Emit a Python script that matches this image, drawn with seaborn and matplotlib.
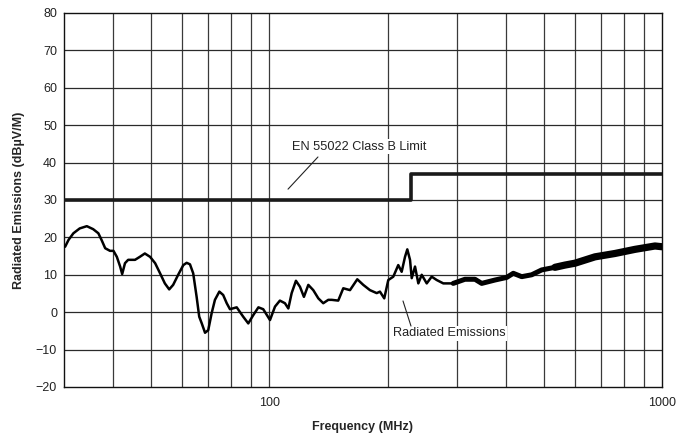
import matplotlib
matplotlib.use("Agg")
import matplotlib.pyplot as plt
import pandas as pd
import seaborn as sns

# ─── Data ─────────────────────────────────────────────────────────────────────
freq_mhz = [
    30.2, 30.8, 31.7, 32.9, 34.3, 35.6, 36.7, 37.4, 38.2, 39.3,
    40.1, 40.9, 41.7, 42.2, 42.9, 43.7, 45.5, 46.8, 48.2, 49.7,
    51.2, 52.7, 54.2, 55.6, 56.9, 58.6, 60.4, 61.6, 62.8, 64.0,
    65.3, 66.3, 67.3, 68.6, 69.9, 71.3, 72.7, 74.6, 76.3, 77.9,
    79.4, 82.6, 85.8, 88.4, 91.0, 93.8, 96.5, 100.4, 103.4, 106.4,
    109.6, 111.8, 114.0, 116.9, 119.7, 122.5, 125.7, 129.4, 133.3, 137.2,
    141.3, 144.2, 149.8, 154.3, 160.5, 167.5, 173.5, 180.4, 187.7, 191.3,
    196.2, 200.9, 206.9, 213.0, 217.3, 221.6, 224.6, 228.2, 230.5, 235.0,
    239.6, 244.4, 251.7, 259.1, 266.9, 277.4, 294.0, 314.9, 334.0, 347.4,
    375.5, 402.3, 418.1, 439.3, 465.7, 493.9, 533.9, 566.2, 600.4, 675.1,
    759.1, 853.4, 959.7, 1000.0,
]
emission_db = [
    17.5, 19.3, 21.1, 22.4, 23.0, 22.2, 21.1, 19.3, 17.1, 16.4,
    16.4, 14.8, 12.2, 10.2, 13.1, 14.0, 14.0, 14.8, 15.7, 14.8,
    13.1, 10.4, 7.7, 6.1, 7.3, 10.0, 12.6, 13.2, 12.8, 10.4,
    4.1, -1.2, -3.0, -5.5, -4.8, -0.3, 3.3, 5.5, 4.6, 2.4,
    0.8, 1.3, -1.2, -3.0, -0.8, 1.3, 0.8, -2.1, 1.5, 3.1,
    2.4, 1.0, 5.1, 8.4, 6.8, 4.1, 7.3, 5.9, 3.7, 2.4,
    3.3, 3.3, 3.1, 6.4, 5.9, 8.8, 7.3, 5.9, 5.1, 5.5,
    3.7, 8.6, 9.5, 12.6, 10.8, 14.8, 16.8, 14.0, 9.1, 12.2,
    7.7, 10.0, 7.7, 9.5, 8.6, 7.7, 7.7, 8.8, 8.8, 7.7,
    8.6, 9.3, 10.4, 9.5, 10.0, 11.3, 12.0, 12.6, 13.1, 14.8,
    15.7, 16.8, 17.7, 17.5,
]

limit_freq = [30, 230, 1000]
limit_db = [30, 37, 37]

y_ticks = [-20, -10, 0, 10, 20, 30, 40, 50, 60, 70, 80]
x_grid = [40, 50, 60, 70, 80, 90, 100, 200, 300, 400, 500, 600, 700, 800, 900]
x_labels = {100: "100", 1000: "1000"}

df = pd.DataFrame({"freq": freq_mhz, "db": emission_db})
lim = pd.DataFrame({"freq": limit_freq, "db": limit_db})

sns.set_theme(style="white")
plt.rcParams["font.family"] = ["Liberation Sans", "DejaVu Sans"]

fig = plt.figure(figsize=(6.88, 4.36), dpi=100)
ax = fig.add_axes([0.093, 0.1124, 0.8692, 0.8578])
ax.set_xscale("log")

# grid
for f in x_grid:
    ax.axvline(f, color="#3a3a3a", lw=0.9, zorder=1)
for y in y_ticks[1:-1]:
    ax.axhline(y, color="#2a2a2a", lw=0.9, zorder=1)

# limit line (step)
sns.lineplot(data=lim, x="freq", y="db", drawstyle="steps-post", color="#1a1a1a",
             lw=2.6, estimator=None, ax=ax, zorder=3)

# measured emissions (noise band gets thicker at high frequency)
sns.lineplot(data=df, x="freq", y="db", color="black", lw=1.8, estimator=None,
             ax=ax, zorder=4)
sns.lineplot(data=df[df["freq"] >= 290], x="freq", y="db", color="black", lw=3.6,
             estimator=None, ax=ax, zorder=4)
sns.lineplot(data=df[df["freq"] >= 520], x="freq", y="db", color="black", lw=5.2,
             estimator=None, ax=ax, zorder=4)

ax.set_xlim(30, 1000)
ax.set_ylim(-20, 80)
ax.set_yticks(y_ticks)
ax.set_yticklabels([str(v).replace("-", "\u2212") for v in y_ticks])
ax.set_xticks(list(x_labels.keys()))
ax.set_xticklabels(list(x_labels.values()))
ax.xaxis.set_minor_locator(matplotlib.ticker.NullLocator())
ax.tick_params(axis="both", length=0, labelsize=9, colors="#222222")
ax.tick_params(axis="x", pad=7)
ax.tick_params(axis="y", pad=5)

ax.set_xlabel("Frequency (MHz)", fontsize=9, fontweight="bold", labelpad=9)
ax.set_ylabel("Radiated Emissions (dB\u00b5V/M)", fontsize=9, fontweight="bold", labelpad=8)

for s in ax.spines.values():
    s.set_color("#111111")
    s.set_linewidth(1.0)

# callouts
ax.text(169, 44.2, "EN 55022 Class B Limit", fontsize=9.2, ha="center", va="center",
        color="#222222", zorder=5,
        bbox=dict(facecolor="white", edgecolor="none", pad=1.0))
ax.plot([133, 111.6], [41.5, 32.9], color="#222222", lw=0.8, zorder=5)

ax.text(288, -5.6, "Radiated Emissions", fontsize=9.2, ha="center", va="center",
        color="#222222", zorder=5,
        bbox=dict(facecolor="white", edgecolor="none", pad=1.0))
ax.plot([219, 229.5], [3.0, -3.7], color="#222222", lw=0.8, zorder=5)

plt.savefig("out.png", dpi=100)
plt.close()
